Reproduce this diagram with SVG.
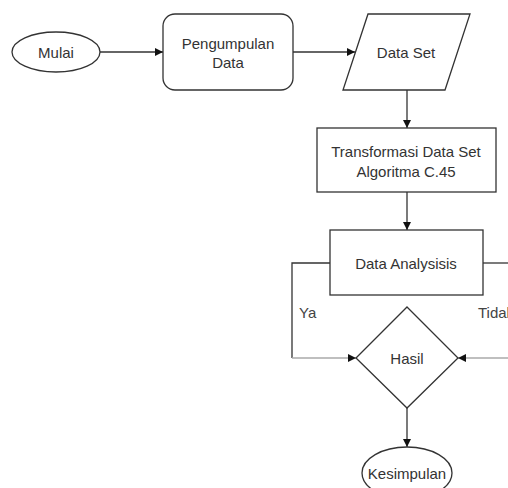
<svg xmlns="http://www.w3.org/2000/svg" width="508" height="488" viewBox="0 0 508 488">
<style>
.s{fill:#fff;stroke:#333;stroke-width:1.3}
.t{font-family:"Liberation Sans",Arial,sans-serif;font-size:15px;fill:#333;text-anchor:middle;dominant-baseline:central}
.l{font-family:"Liberation Sans",Arial,sans-serif;font-size:15px;fill:#444}
.c{fill:none;stroke:#333;stroke-width:1.3}
.g{fill:none;stroke:#aaa;stroke-width:1.6}
</style>
<defs>
<marker id="a" viewBox="0 0 10 10" refX="10" refY="5" markerWidth="8" markerHeight="8" markerUnits="userSpaceOnUse" orient="auto">
<path d="M0,0 L10,5 L0,10 Z" fill="#111"/>
</marker>
</defs>
<g id="connectors">
<line class="c" x1="100" y1="52" x2="163" y2="52" marker-end="url(#a)"/>
<line class="c" x1="293" y1="52" x2="355" y2="52" marker-end="url(#a)"/>
<line class="c" x1="407" y1="90" x2="407" y2="128" marker-end="url(#a)"/>
<line class="c" x1="407" y1="192" x2="407" y2="230" marker-end="url(#a)"/>
<polyline class="c" points="330,263 292,263 292,358"/>
<line class="g" x1="292" y1="358" x2="356" y2="358" marker-end="url(#a)"/>
<line class="c" x1="483" y1="263" x2="508" y2="263"/>
<line class="g" x1="508" y1="358" x2="458" y2="358" marker-end="url(#a)"/>
<line class="c" x1="407" y1="408" x2="407" y2="447" marker-end="url(#a)"/>
<text class="l" x="299" y="318">Ya</text>
<text class="l" x="478" y="318">Tidak</text>
</g>
<g id="mulai">
<ellipse class="s" cx="56" cy="52" rx="44" ry="20"/>
<text class="t" x="56" y="52">Mulai</text>
</g>
<g id="pengumpulan">
<rect class="s" x="163" y="14" width="130" height="76" rx="12"/>
<text class="t" x="228" y="43">Pengumpulan</text>
<text class="t" x="228" y="62">Data</text>
</g>
<g id="dataset">
<polygon class="s" points="368,14 470,14 445,90 343,90"/>
<text class="t" x="406" y="52">Data Set</text>
</g>
<g id="transformasi">
<rect class="s" x="317" y="128" width="179" height="64"/>
<text class="t" x="406" y="151">Transformasi Data Set</text>
<text class="t" x="406" y="171">Algoritma C.45</text>
</g>
<g id="analysis">
<rect class="s" x="330" y="230" width="153" height="65"/>
<text class="t" x="406" y="263">Data Analysisis</text>
</g>
<g id="hasil">
<polygon class="s" points="407,307 458,358 407,408 356,358"/>
<text class="t" x="407" y="358">Hasil</text>
</g>
<g id="kesimpulan">
<ellipse class="s" cx="407" cy="473" rx="45" ry="26"/>
<text class="t" x="407" y="473">Kesimpulan</text>
</g>
</svg>
